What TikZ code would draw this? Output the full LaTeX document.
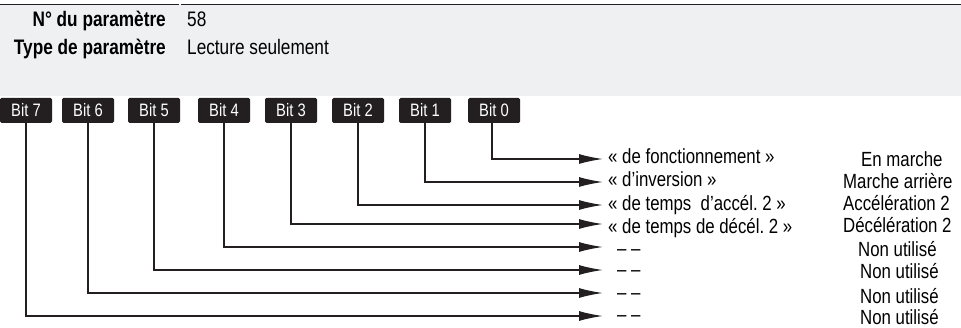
\documentclass[tikz,border=0pt]{standalone}
\usepackage{fontspec}
\setmainfont[FakeStretch=0.82]{Liberation Sans}
\usetikzlibrary{arrows.meta}
\definecolor{headgray}{RGB}{239,240,242}
\definecolor{boxblack}{RGB}{35,31,32}
\begin{document}
\begin{tikzpicture}[x=1pt,y=-1pt,
  bitbox/.style={fill=boxblack,text=white,rounded corners=1.5pt,minimum width=52pt,minimum height=25pt,inner sep=0pt,font=\fontsize{18}{20}\selectfont},
  conn/.style={line width=1.5pt,draw=boxblack,line join=miter,-{Latex[length=24pt,width=10pt]}},
  lbl/.style={anchor=base west,inner sep=0pt,font=\fontsize{20.5}{22}\selectfont},
  head/.style={inner sep=0pt,font=\fontsize{21}{24}\selectfont}]
\useasboundingbox (0,0) rectangle (961,328);
% header band
\fill[headgray] (0,5) rectangle (961,96);
\draw[line width=0.9pt,boxblack] (0,4) -- (178.5,4);
\draw[line width=0.9pt,boxblack] (180.5,4) -- (961,4);
\node[head,anchor=base east,font=\fontsize{21}{24}\selectfont\bfseries] (h1) at (166,27) {N° du paramètre};
\node[head,anchor=base west] (v1) at (187,27) {58};
\node[head,anchor=base east,font=\fontsize{21}{24}\selectfont\bfseries] (h2) at (166,55) {Type de paramètre};
\node[head,anchor=base west] (v2) at (187,55) {Lecture seulement};
% bit boxes
\node[bitbox] (b7) at (26,110.5) {Bit 7};
\node[bitbox] (b6) at (88,110.5) {Bit 6};
\node[bitbox] (b5) at (154,110.5) {Bit 5};
\node[bitbox] (b4) at (224,110.5) {Bit 4};
\node[bitbox] (b3) at (291,110.5) {Bit 3};
\node[bitbox] (b2) at (358,110.5) {Bit 2};
\node[bitbox] (b1) at (425,110.5) {Bit 1};
\node[bitbox] (b0) at (494,110.5) {Bit 0};
% arrow end points
\coordinate (e0) at (603,159);
\coordinate (e1) at (603,182);
\coordinate (e2) at (603,205);
\coordinate (e3) at (603,224);
\coordinate (e4) at (603,247);
\coordinate (e5) at (603,270);
\coordinate (e6) at (603,293);
\coordinate (e7) at (603,316);
\draw[conn] ([xshift=-2pt]b0.south) |- (e0);
\draw[conn] (b1.south) |- (e1);
\draw[conn] (b2.south) |- (e2);
\draw[conn] (b3.south) |- (e3);
\draw[conn] (b4.south) |- (e4);
\draw[conn] (b5.south) |- (e5);
\draw[conn] (b6.south) |- (e6);
\draw[conn] (b7.south) |- (e7);
% labels
\node[lbl] (l0) at (608,164) {«~de fonctionnement~»};
\node[lbl] (l1) at (608,187) {«~d’inversion~»};
\node[lbl] (l2) at (608,211) {«~de temps~~d’accél.~2~»};
\node[lbl] (l3) at (608,234) {«~de temps de décél.~2~»};
\node[lbl] (l4) at (617,256) {– –};
\node[lbl] (l5) at (617,277) {– –};
\node[lbl] (l6) at (617,300) {– –};
\node[lbl] (l7) at (617,322) {– –};
\node[lbl] (r0) at (861,167) {En marche};
\node[lbl] (r1) at (843,189) {Marche arrière};
\node[lbl] (r2) at (843,211) {Accélération 2};
\node[lbl] (r3) at (843,233) {Décélération 2};
\node[lbl] (r4) at (858,257) {Non utilisé};
\node[lbl] (r5) at (860,279) {Non utilisé};
\node[lbl] (r6) at (860,304) {Non utilisé};
\node[lbl] (r7) at (860,325) {Non utilisé};
\end{tikzpicture}
\end{document}
